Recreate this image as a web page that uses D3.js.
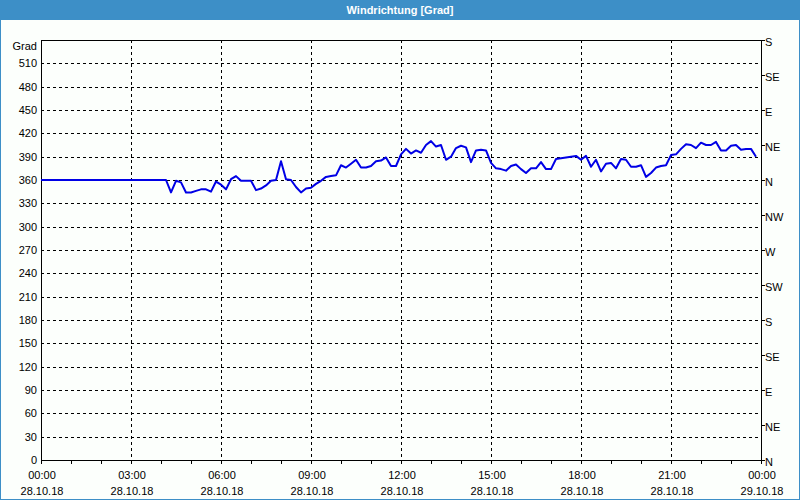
<!DOCTYPE html>
<html><head><meta charset="utf-8">
<script src="https://cdn.jsdelivr.net/npm/d3@7"></script>
<style>
html,body{margin:0;padding:0;background:#fff;}
svg{display:block;}
text{font-family:"Liberation Sans",Arial,sans-serif;font-size:11px;fill:#000;}
</style></head><body>
<svg id="c" width="800" height="500"></svg>
<script>
// ---- data ----
const title = "Windrichtung [Grad]";
const unitLabel = "Grad";
const startTime = "2018-10-28T00:00:00";
const endTime = "2018-10-29T00:00:00";
const intervalMinutes = 10;
// wind direction every 10 minutes from 00:00 (degrees, >360 = wrapped)
const values = [
  360,360,360,360,360,360,360,360,360,360,
  360,360,360,360,360,360,360,360,360,360,
  360,360,360,360,360,360,344,359,357,344,
  344,346,348,348,345,358,354,348,361,365,
  359,359,359,347,349,353,359,360,384,361,
  360,351,344,349,350,355,359,364,365,366,
  379,376,381,386,376,376,378,384,385,389,
  378,378,393,400,394,398,395,405,410,403,
  405,386,390,401,404,402,383,398,399,398,
  382,375,374,372,378,380,374,369,375,375,
  383,374,374,387,388,389,390,391,386,391,
  377,386,371,381,382,375,387,386,377,377,
  379,364,369,376,378,379,392,393,400,406,
  405,401,408,405,405,409,398,398,404,405,
  399,400,400,390
];
const leftTicks = [0,30,60,90,120,150,180,210,240,270,300,330,360,390,420,450,480,510];
const rightTicks = [0,45,90,135,180,225,270,315,360,405,450,495,540];
const rightLabels = ["N","NE","E","SE","S","SW","W","NW","N","NE","E","SE","S"];
const yDomain = [0,540];

// ---- layout ----
const svg = d3.select("#c");
const W = 800, H = 500;
const m = {l:41, r:761, t:40, b:460};
const blue = "#3d8fc7";

svg.append("rect").attr("x",0).attr("y",0).attr("width",W).attr("height",H).attr("fill","#fcfffc");
svg.append("rect").attr("x",0).attr("y",0).attr("width",W).attr("height",20).attr("fill",blue);
svg.append("rect").attr("x",0.5).attr("y",0.5).attr("width",W-1).attr("height",H-1)
  .attr("fill","none").attr("stroke",blue);
svg.append("text").attr("x",W/2).attr("y",14).attr("text-anchor","middle")
  .style("font-weight","bold").style("fill","#fff").text(title);

const parse = d3.timeParse("%Y-%m-%dT%H:%M:%S");
const t0 = parse(startTime), t1 = parse(endTime);
const x = d3.scaleTime().domain([t0,t1]).range([m.l,m.r]);
const y = d3.scaleLinear().domain(yDomain).range([m.b,m.t]);

const data = values.map((v,i)=>({t:d3.timeMinute.offset(t0,i*intervalMinutes), v}));

// grid
const g = svg.append("g");
g.selectAll("line.h").data(leftTicks.filter(d=>d>0)).join("line")
  .attr("x1",m.l).attr("x2",m.r).attr("y1",d=>Math.round(y(d))+0.5).attr("y2",d=>Math.round(y(d))+0.5)
  .attr("stroke","#000").attr("stroke-dasharray","3,3");
const majorTimes = d3.timeHour.every(3).range(t0, d3.timeMinute.offset(t1,1));
g.selectAll("line.v").data(majorTimes.filter(d=>+d>+t0 && +d<+t1)).join("line")
  .attr("x1",d=>Math.round(x(d))+0.5).attr("x2",d=>Math.round(x(d))+0.5).attr("y1",m.t).attr("y2",m.b)
  .attr("stroke","#000").attr("stroke-dasharray","3,3");

// frame
svg.append("rect").attr("x",m.l+0.5).attr("y",m.t+0.5).attr("width",m.r-m.l).attr("height",m.b-m.t)
  .attr("fill","none").attr("stroke","#000");

// left axis labels
svg.append("g").selectAll("text").data(leftTicks).join("text")
  .attr("x",37).attr("y",d=>y(d)).attr("dy","0.35em").attr("text-anchor","end").text(d=>d);
svg.append("text").attr("x",37).attr("y",46).attr("dy","0.35em").attr("text-anchor","end").text(unitLabel);

// right axis
const ra = svg.append("g");
ra.selectAll("line").data(rightTicks).join("line")
  .attr("x1",m.r).attr("x2",m.r+4).attr("y1",d=>Math.round(y(d))+0.5).attr("y2",d=>Math.round(y(d))+0.5)
  .attr("stroke","#000");
ra.selectAll("text").data(rightTicks).join("text")
  .attr("x",m.r+4).attr("y",d=>y(d)+2).attr("dy","0.35em").attr("text-anchor","start")
  .text((d,i)=>rightLabels[i]);

// bottom axis
const hourTimes = d3.timeHour.every(1).range(t0, d3.timeMinute.offset(t1,1));
svg.append("g").selectAll("line").data(hourTimes).join("line")
  .attr("x1",d=>Math.round(x(d))+0.5).attr("x2",d=>Math.round(x(d))+0.5)
  .attr("y1",m.b).attr("y2",m.b+4).attr("stroke","#000");
const fT = d3.timeFormat("%H:%M"), fD = d3.timeFormat("%d.%m.%y");
const bl = svg.append("g").selectAll("g").data(majorTimes).join("g");
bl.append("text").attr("x",d=>x(d)+1).attr("y",479).attr("text-anchor","middle").text(d=>fT(d));
bl.append("text").attr("x",d=>x(d)+1).attr("y",495).attr("text-anchor","middle").text(d=>fD(d));

// line
svg.append("path").datum(data)
  .attr("d", d3.line().x(d=>x(d.t)).y(d=>y(d.v)))
  .attr("fill","none").attr("stroke","#0000e6").attr("stroke-width",2).attr("stroke-linejoin","round");
</script>
</body></html>
